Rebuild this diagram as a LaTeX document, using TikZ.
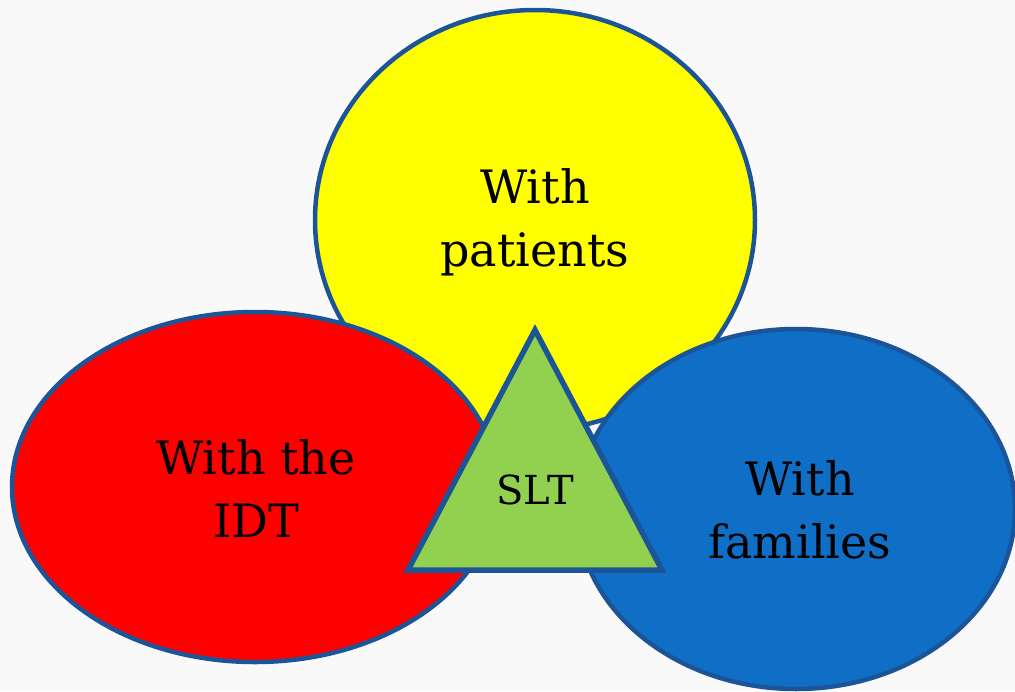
\documentclass[tikz,border=0pt]{standalone}
\usepackage{fontspec}
\setmainfont{DejaVu Serif}
\begin{document}
\begin{tikzpicture}[x=1pt,y=-1pt,
  outl/.style={draw=edgeblue,line width=4.5pt},
  lbl/.style={align=center,font=\fontsize{46}{63}\selectfont,text=black}]
\definecolor{edgeblue}{HTML}{1B5597}
\definecolor{ylw}{HTML}{FFFF00}
\definecolor{rd}{HTML}{FF0000}
\definecolor{bl}{HTML}{0F6FC6}
\definecolor{grn}{HTML}{92D050}
\definecolor{bg}{HTML}{F9F9F9}
\fill[bg] (0,0) rectangle (1015,691);
\useasboundingbox (0,0) rectangle (1015,691);
\path[outl,fill=ylw] (535,220) ellipse [x radius=220,y radius=210];
\path[outl,fill=rd] (255,487) ellipse [x radius=243,y radius=175];
\path[outl,fill=bl] (796,509) ellipse [x radius=219,y radius=180];
\coordinate (apex) at (535,330);
\coordinate (bl) at (408,570);
\coordinate (br) at (662,570);
\path[draw=edgeblue,line width=5.5pt,fill=grn,line join=miter] (apex) -- (br) -- (bl) -- cycle;
\node[lbl] (pat) at (535,222) {With\\patients};
\node[lbl] (idt) at (256,489) {With the\\IDT};
\node[lbl] (fam) at (800,510) {With\\families};
\node[font=\fontsize{40}{44}\selectfont] (slt) at (535,490) {SLT};
\end{tikzpicture}
\end{document}
